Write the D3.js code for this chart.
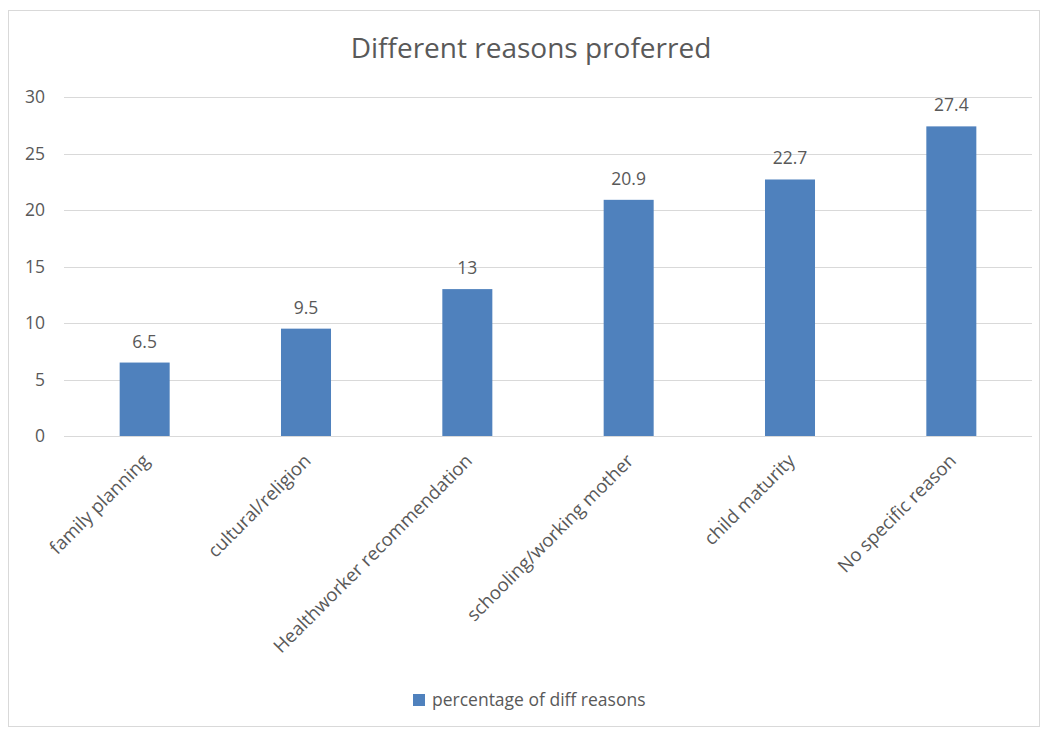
<!DOCTYPE html>
<html><head><meta charset="utf-8">
<script src="https://cdn.jsdelivr.net/npm/d3@7"></script>
<style>body{margin:0;background:#fff}</style>
</head><body><svg id="c" width="1048" height="729"></svg>
<script>
const categories = ["family planning","cultural/religion","Healthworker recommendation","schooling/working mother","child maturity","No specific reason"];
const values = [6.5, 9.5, 13, 20.9, 22.7, 27.4];
const yTicks = [0,5,10,15,20,25,30];
const seriesName = "percentage of diff reasons";
const title = "Different reasons proferred";

const svg = d3.select("#c");
const font = "'Open Sans', sans-serif";
const grey = "#595959";
svg.append("rect").attr("x",8.5).attr("y",10.5).attr("width",1031).attr("height",716)
  .attr("fill","#fff").attr("stroke","#d9d9d9");

const x = d3.scaleBand().domain(categories).range([64,1032]).paddingInner(0.69).paddingOuter(0.345);
const y = d3.scaleLinear().domain([0,30]).range([436,97]);

svg.append("text").attr("x",531).attr("y",58).attr("text-anchor","middle")
  .attr("font-family",font).attr("font-size",28).attr("fill",grey).text(title);

const g = svg.append("g");
g.selectAll("line.grid").data(yTicks).join("line")
  .attr("x1",64).attr("x2",1032).attr("y1",d=>Math.round(y(d))+0.5).attr("y2",d=>Math.round(y(d))+0.5)
  .attr("stroke","#d9d9d9").attr("stroke-width",1);
g.selectAll("text.yt").data(yTicks).join("text")
  .attr("x",45).attr("y",d=>y(d)).attr("dy","0.35em").attr("text-anchor","end")
  .attr("font-family",font).attr("font-size",17.5).attr("fill",grey).text(d=>d);

g.selectAll("rect.bar").data(values).join("rect")
  .attr("x",(d,i)=>x(categories[i])).attr("width",x.bandwidth())
  .attr("y",d=>y(d)).attr("height",d=>y(0)-y(d)).attr("fill","#4F81BD");

g.selectAll("text.lab").data(values).join("text")
  .attr("x",(d,i)=>x(categories[i])+x.bandwidth()/2).attr("y",d=>y(d)-15)
  .attr("text-anchor","middle").attr("font-family",font).attr("font-size",17.5).attr("fill",grey).text(d=>d);

g.selectAll("text.cat").data(categories).join("text")
  .attr("transform",d=>`translate(${x(d)+x.bandwidth()/2+6},${462}) rotate(-45)`)
  .attr("text-anchor","end").attr("font-family",font).attr("font-size",18.5).attr("fill",grey).text(d=>d);

const lg = svg.append("g");
lg.append("rect").attr("x",413).attr("y",694).attr("width",12).attr("height",12).attr("fill","#4F81BD");
lg.append("text").attr("x",432).attr("y",700).attr("dy","0.35em").attr("font-family",font)
  .attr("font-size",17.5).attr("fill",grey).text(seriesName);
</script></body></html>
